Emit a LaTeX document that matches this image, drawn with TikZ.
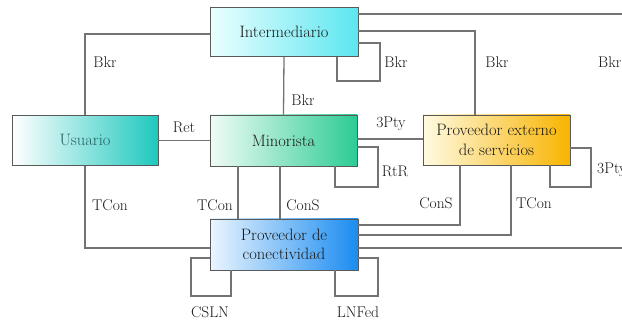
\documentclass[tikz,border=0pt]{standalone}
\begin{document}
\begin{tikzpicture}[x=1pt,y=-1pt,
  box/.style={draw=black!65, line width=0.9pt, rectangle, inner sep=0pt,
    align=center, font=\fontsize{16.5}{19.5}\selectfont, text=black!90,
    shading angle=0},
  link/.style={draw=black!55, line width=1.3pt},
  lbl/.style={font=\fontsize{15.5}{17}\selectfont, text=black!90, inner sep=0pt}]
\useasboundingbox (0,0) rectangle (622,320);
\begin{scope}
\clip (0,0) rectangle (622,320);
% organisations
\node[box, minimum width=148pt, minimum height=49pt, left color=cyan!8, right color={rgb,255:red,92;green,230;blue,240}]
  (int) at (284,32) {Intermediario};
\node[box, minimum width=146pt, minimum height=50pt, left color=white, right color={rgb,255:red,30;green,200;blue,190}, text={rgb,255:red,35;green,95;blue,100}]
  (usu) at (85,140.5) {Usuario};
\node[box, minimum width=147pt, minimum height=51pt, left color={rgb,255:red,240;green,252;blue,246}, right color={rgb,255:red,44;green,204;blue,148}]
  (min) at (283.5,140.5) {Minorista};
\node[box, minimum width=147pt, minimum height=50pt, left color={rgb,255:red,255;green,250;blue,225}, right color={rgb,255:red,248;green,180;blue,0}]
  (ext) at (496.5,140) {Proveedor externo\\de servicios};
\node[box, minimum width=148pt, minimum height=51pt, left color={rgb,255:red,235;green,245;blue,255}, right color={rgb,255:red,26;green,140;blue,240}]
  (con) at (284,244.5) {Proveedor de\\conectividad};

% off-page anchors on the right
\coordinate (offA) at (630,14);
\coordinate (offB) at (630,248);

% broker relations
\draw[link] (int.west |- 0,34) -| (usu.north);
\draw[link] (int.south) -- (min.north);
\draw[link] (int.east |- 0,43) -| (380,81) -| (int.south -| 337,0);
\draw[link] (int.east |- 0,31) -| (ext.north -| 475,0);
\draw[link] (int.east |- 0,14) -- (offA);
% retail and third party
\draw[link] (usu.east) -- (min.west);
\draw[link] (min.east |- 0,139) -- (ext.west |- 0,139);
\draw[link] (min.east |- 0,147) -| (378,187) -| (min.south -| 335,0);
\draw[link] (ext.east |- 0,148) -| (591,187) -| (ext.south -| 550,0);
% connectivity relations
\draw[link] (usu.south) |- (con.west |- 0,248);
\draw[link] (min.south -| 238,0) -- (con.north -| 238,0);
\draw[link] (min.south -| 280,0) -- (con.north -| 280,0);
\draw[link] (ext.south -| 460,0) |- (con.east |- 0,225);
\draw[link] (ext.south -| 511,0) |- (con.east |- 0,235);
\draw[link] (con.east |- 0,248) -- (offB);
\draw[link] (con.west |- 0,258) -| (191,296) -| (con.south -| 231,0);
\draw[link] (con.east |- 0,258) -| (378,296) -| (con.south -| 335,0);

% relation labels
\node[lbl] (l1) at (105,62) {Bkr};
\node[lbl] (l2) at (303,100) {Bkr};
\node[lbl] (l3) at (396,62) {Bkr};
\node[lbl] (l4) at (497,62) {Bkr};
\node[lbl, anchor=west] (l5) at (598,62) {Bkr};
\node[lbl] (l6) at (184,127) {Ret};
\node[lbl] (l7) at (391,124) {3Pty};
\node[lbl] (l8) at (395,171) {RtR};
\node[lbl, anchor=west] (l9) at (597,170) {3Pty};
\node[lbl] (l10) at (110,205) {TCon};
\node[lbl] (l11) at (215,205) {TCon};
\node[lbl] (l12) at (303,205) {ConS};
\node[lbl] (l13) at (436,203) {ConS};
\node[lbl] (l14) at (534,203) {TCon};
\node[lbl] (l15) at (210,312) {CSLN};
\node[lbl] (l16) at (358,312) {LNFed};
\end{scope}
\end{tikzpicture}
\end{document}
